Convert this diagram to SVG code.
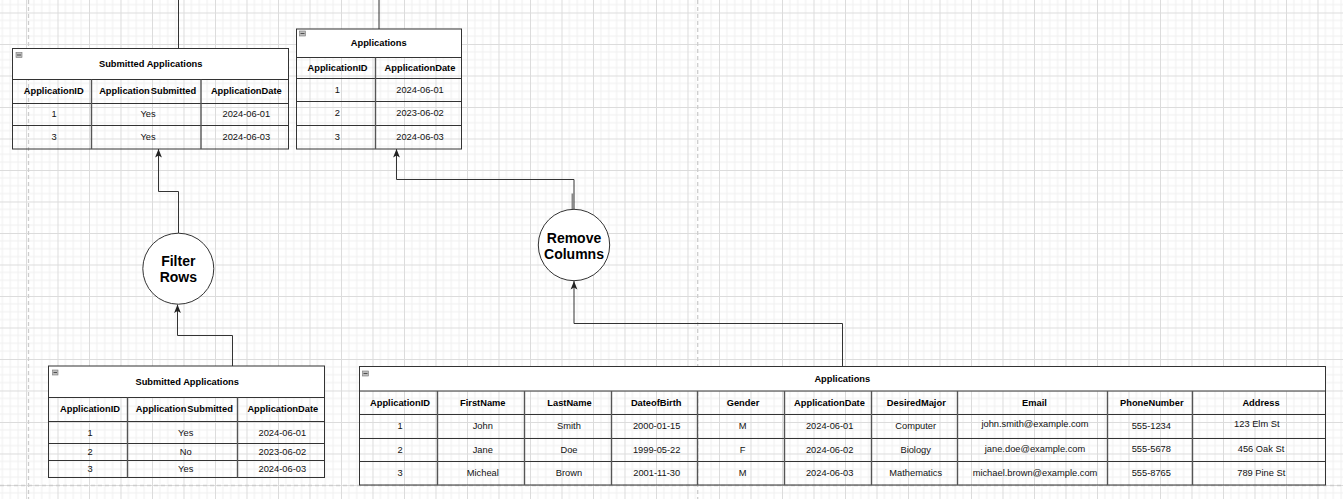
<svg xmlns="http://www.w3.org/2000/svg" width="1343" height="499" viewBox="0 0 1343 499">
<style>
text{font-family:"Liberation Sans",Arial,sans-serif;fill:#000;text-anchor:middle;dominant-baseline:central}
.h{font-size:9.3px;font-weight:bold}
.ws{word-spacing:-1.6px}
.b{font-size:9.3px;fill:#111}
.c{font-size:14px;font-weight:bold}
.frame{fill:none;stroke:#333;stroke-width:1}
.title{fill:#fff;stroke:none}
.ln{stroke:#333;stroke-width:1;fill:none}
.col{stroke:#555;stroke-width:1.4;fill:none}
.icon{fill:#bdbdbd;stroke:#777;stroke-width:0.6}
.conn{stroke:#333;stroke-width:1;fill:none}
.page{stroke:#cdcdcd;stroke-width:1.3;stroke-dasharray:4 3;fill:none}
.node{fill:#fff;stroke:#333;stroke-width:1}
</style>
<defs>
<pattern id="grid" x="26" y="12.5" width="31.5" height="31.5" patternUnits="userSpaceOnUse">
<path d="M7.875,0V31.5M15.75,0V31.5M23.625,0V31.5M0,7.875H31.5M0,15.75H31.5M0,23.625H31.5" stroke="#f0f0f0" stroke-width="1" fill="none"/>
<path d="M0.5,0V31.5M0,0.5H31.5" stroke="#dcdcdc" stroke-width="1" fill="none"/>
</pattern>
<marker id="arr" viewBox="0 0 9 8" refX="8.5" refY="4" markerWidth="9" markerHeight="8" markerUnits="userSpaceOnUse" orient="auto">
<path d="M0,0.6 L8.5,4 L0,7.4 L2,4 Z" fill="#222"/>
</marker>
</defs>
<rect width="1343" height="499" fill="#fff"/>
<rect width="1343" height="499" fill="url(#grid)"/>
<g id="page-breaks">
<path class="page" d="M28.5,0V499M697.7,0V499M0,485.5H1343"/>
</g>

<g id="connectors">
<path class="conn" d="M178.5,0V48.5"/>
<path class="conn" d="M379,0V29"/>
<path class="conn" d="M178.5,233V191.5H158.5V149" marker-end="url(#arr)"/>
<path class="conn" d="M232.5,366V335.5H177.5V304.5" marker-end="url(#arr)"/>
<path class="conn" d="M574,209.5V179.5H396.5V149" marker-end="url(#arr)"/>
<rect x="571.5" y="193.5" width="2.2" height="16" fill="#888"/>
<path class="conn" d="M842.5,366.5V323.5H574V281" marker-end="url(#arr)"/>
</g>

<g id="submitted-applications-top">
<rect class="title" x="12.5" y="48.5" width="276" height="31"/>
<rect class="frame" x="12.5" y="48.5" width="276" height="100.5"/>
<path class="ln" d="M12.5,79.5H288.5M12.5,103.5H288.5M12.5,125.5H288.5"/>
<path class="col" d="M91.5,79.5V149M201,79.5V149"/>
<rect class="icon" x="16" y="52.5" width="6" height="5"/><path d="M17,55H21" stroke="#333" stroke-width="0.8"/>
<text class="h" x="150.7" y="64">Submitted Applications</text>
<text class="h" x="53.7" y="91">ApplicationID</text>
<text class="h ws" x="147.7" y="91">Application Submitted</text>
<text class="h" x="246.3" y="91">ApplicationDate</text>
<text class="b" x="54" y="114">1</text><text class="b" x="148" y="114">Yes</text><text class="b" x="246.3" y="114">2024-06-01</text>
<text class="b" x="54" y="137">3</text><text class="b" x="148" y="137">Yes</text><text class="b" x="246.3" y="137">2024-06-03</text>
</g>

<g id="applications-top">
<rect class="title" x="296.5" y="29" width="165" height="28.5"/>
<rect class="frame" x="296.5" y="29" width="165" height="120"/>
<path class="ln" d="M296.5,57.5H461.5M296.5,78.5H461.5M296.5,101.5H461.5M296.5,125.5H461.5"/>
<path class="col" d="M375.5,57.5V149"/>
<rect class="icon" x="299.5" y="31" width="6" height="5"/><path d="M300.5,33.5H304.5" stroke="#333" stroke-width="0.8"/>
<text class="h" x="378.7" y="43">Applications</text>
<text class="h" x="337.5" y="68">ApplicationID</text>
<text class="h" x="420" y="68">ApplicationDate</text>
<text class="b" x="337.3" y="90">1</text><text class="b" x="420" y="90">2024-06-01</text>
<text class="b" x="337.3" y="113">2</text><text class="b" x="420" y="113">2023-06-02</text>
<text class="b" x="337.3" y="136.7">3</text><text class="b" x="420" y="136.7">2024-06-03</text>
</g>

<g id="filter-rows">
<circle class="node" cx="178.3" cy="268.7" r="35.5"/>
<text class="c" x="178.3" y="260.5">Filter</text>
<text class="c" x="178.3" y="277">Rows</text>
</g>

<g id="remove-columns">
<circle class="node" cx="574" cy="245" r="35.7"/>
<text class="c" x="574" y="237.5">Remove</text>
<text class="c" x="574" y="253.5">Columns</text>
</g>

<g id="submitted-applications-bottom">
<rect class="title" x="48.5" y="366" width="276" height="31.5"/>
<rect class="frame" x="48.5" y="366" width="276" height="111.5"/>
<path class="ln" d="M48.5,397.5H324.5M48.5,421.5H324.5M48.5,443.5H324.5M48.5,460.5H324.5"/>
<path class="col" d="M127.5,397.5V477.5M237.5,397.5V477.5"/>
<rect class="icon" x="52.5" y="370" width="5.5" height="5"/><path d="M53.5,372.5H57" stroke="#333" stroke-width="0.8"/>
<text class="h" x="187.2" y="381.7">Submitted Applications</text>
<text class="h" x="90" y="409">ApplicationID</text>
<text class="h ws" x="184.3" y="409">Application Submitted</text>
<text class="h" x="282.8" y="409">ApplicationDate</text>
<text class="b" x="90" y="432.7">1</text><text class="b" x="185.7" y="432.7">Yes</text><text class="b" x="282.3" y="432.7">2024-06-01</text>
<text class="b" x="90" y="452.3">2</text><text class="b" x="185.7" y="452.3">No</text><text class="b" x="282.3" y="452.3">2023-06-02</text>
<text class="b" x="90" y="469">3</text><text class="b" x="185.7" y="469">Yes</text><text class="b" x="282.3" y="469">2024-06-03</text>
</g>

<g id="applications-bottom">
<rect class="title" x="359.5" y="366.5" width="966" height="24.5"/>
<rect class="frame" x="359.5" y="366.5" width="966" height="118.5"/>
<path class="ln" d="M359.5,391H1325.5M359.5,414.5H1325.5M359.5,438.5H1325.5M359.5,461.5H1325.5"/>
<path class="col" d="M437.5,391V485M524.5,391V485M611.5,391V485M697.5,391V485M784.5,391V485M871.5,391V485M957.5,391V485M1107.5,391V485M1192.5,391V485"/>
<rect class="icon" x="362.5" y="371" width="6" height="5"/><path d="M363.5,373.5H367.5" stroke="#333" stroke-width="0.8"/>
<text class="h" x="842.3" y="379">Applications</text>
<text class="h" x="400" y="402.7">ApplicationID</text>
<text class="h" x="482.8" y="402.7">FirstName</text>
<text class="h" x="569.5" y="402.7">LastName</text>
<text class="h" x="656.2" y="402.7">DateofBirth</text>
<text class="h" x="743" y="402.7">Gender</text>
<text class="h" x="829.5" y="402.7">ApplicationDate</text>
<text class="h" x="916.3" y="402.7">DesiredMajor</text>
<text class="h" x="1034.5" y="402.7">Email</text>
<text class="h" x="1151.8" y="402.7">PhoneNumber</text>
<text class="h" x="1261" y="402.7">Address</text>
<text class="b" x="400" y="426">1</text><text class="b" x="482.8" y="426">John</text><text class="b" x="569" y="426">Smith</text><text class="b" x="656.7" y="426">2000-01-15</text><text class="b" x="742.7" y="426">M</text><text class="b" x="829.7" y="426">2024-06-01</text><text class="b" x="915.7" y="426">Computer</text><text class="b" x="1035" y="423.5">john.smith@example.com</text><text class="b" x="1151.3" y="426">555-1234</text><text class="b" x="1256.8" y="423.5">123 Elm St</text>
<text class="b" x="400" y="450">2</text><text class="b" x="482.8" y="450">Jane</text><text class="b" x="569" y="450">Doe</text><text class="b" x="656.7" y="450">1999-05-22</text><text class="b" x="742.7" y="450">F</text><text class="b" x="829.7" y="450">2024-06-02</text><text class="b" x="915.7" y="450">Biology</text><text class="b" x="1035" y="449">jane.doe@example.com</text><text class="b" x="1151.3" y="449">555-5678</text><text class="b" x="1261" y="449">456 Oak St</text>
<text class="b" x="400" y="473.3">3</text><text class="b" x="482.8" y="473.3">Micheal</text><text class="b" x="569" y="473.3">Brown</text><text class="b" x="656.7" y="473.3">2001-11-30</text><text class="b" x="742.7" y="473.3">M</text><text class="b" x="829.7" y="473.3">2024-06-03</text><text class="b" x="915.7" y="473.3">Mathematics</text><text class="b" x="1035" y="472.5">michael.brown@example.com</text><text class="b" x="1151.3" y="472.5">555-8765</text><text class="b" x="1261.3" y="472.5">789 Pine St</text>
</g>
</svg>
